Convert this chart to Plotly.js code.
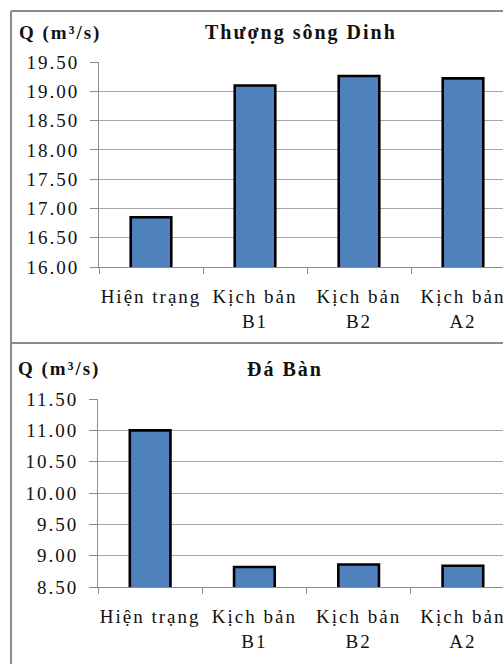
<!DOCTYPE html>
<html>
<head>
<meta charset="utf-8">
<script src="https://cdn.plot.ly/plotly-3.0.1.min.js"></script>
<style>
  html, body { margin: 0; padding: 0; background: #fff; }
  #chart { width: 503px; height: 664px; }
  #chart svg text { letter-spacing: 2px; }
</style>
</head>
<body>
<div id="chart"></div>
<script>
// Discharge Q (m³/s) under present conditions and climate scenarios
const categories = ["Hiện trạng", "Kịch bản<br>B1", "Kịch bản<br>B2", "Kịch bản<br>A2"];
const thuongSongDinh = [16.85, 19.10, 19.26, 19.22];
const daBan = [11.00, 8.82, 8.86, 8.84];
const titleTop = "Thượng sông Dinh";
const titleBottom = "Đá Bàn";
const unitLabel = "Q (m³/s)";

const W = 503, H = 664;
const px = x => x / W;            // pixel column -> paper x
const py = y => (H - y) / H;      // pixel row -> paper y

const FONT = "Times New Roman, Liberation Serif, DejaVu Serif, serif";
const barColor = "#4F81BD";
const gridColor = "#a6a6a6";
const axisColor = "#8c8c8c";

function barTrace(values, xa, ya) {
  return {
    type: "bar",
    x: categories,
    y: values,
    xaxis: xa,
    yaxis: ya,
    width: 0.39,
    marker: { color: barColor, line: { color: "#000", width: 2.6 } },
    hoverinfo: "skip",
    showlegend: false
  };
}

function xAxis(domainStart, anchor) {
  return {
    domain: [px(domainStart), 1],
    anchor: anchor,
    type: "category",
    range: [-0.5, 3.5 - 12 / 104],
    tickson: "boundaries",
    ticks: "outside",
    ticklen: 6,
    tickwidth: 1,
    tickcolor: axisColor,
    showline: true,
    linecolor: axisColor,
    linewidth: 1,
    showgrid: false,
    tickfont: { family: FONT, size: 19, color: "#111" },
    ticklabelstandoff: 12,
    fixedrange: true
  };
}

function yAxis(top, bottom, range, anchor) {
  return {
    domain: [py(bottom), py(top)],
    anchor: anchor,
    range: range,
    dtick: 0.5,
    tick0: range[0],
    tickformat: ".2f",
    ticks: "outside",
    ticklen: 8,
    tickwidth: 1,
    tickcolor: axisColor,
    showline: true,
    linecolor: axisColor,
    linewidth: 1,
    showgrid: true,
    gridcolor: gridColor,
    gridwidth: 1,
    zeroline: false,
    tickfont: { family: FONT, size: 19, color: "#111" },
    ticklabelstandoff: 7,
    fixedrange: true
  };
}

const data = [
  barTrace(thuongSongDinh, "x", "y"),
  barTrace(daBan, "x2", "y2")
];

const panelLine = { color: "#8c8c8c", width: 2 };

const layout = {
  width: W,
  height: H,
  margin: { l: 0, r: 0, t: 0, b: 0 },
  paper_bgcolor: "#fff",
  plot_bgcolor: "rgba(0,0,0,0)",
  font: { family: FONT },
  xaxis: xAxis(99, "y"),
  yaxis: yAxis(62, 267, [16, 19.5], "x"),
  xaxis2: xAxis(98, "y2"),
  yaxis2: yAxis(399, 587, [8.5, 11.5], "x2"),
  shapes: [
    // panel frames
    { type: "line", xref: "paper", yref: "paper", x0: px(11), x1: 1, y0: py(11), y1: py(11), line: panelLine },
    { type: "line", xref: "paper", yref: "paper", x0: px(11), x1: px(11), y0: py(11), y1: 0, line: panelLine },
    { type: "line", xref: "paper", yref: "paper", x0: px(11), x1: 1, y0: py(343), y1: py(343), line: panelLine }
  ],
  annotations: [
    { text: "<b>" + unitLabel + "</b>", xref: "paper", yref: "paper", x: px(25), y: py(33),
      xanchor: "left", yanchor: "middle", showarrow: false,
      font: { family: FONT, size: 19, color: "#111" } },
    { text: "<b>" + titleTop + "</b>", xref: "paper", yref: "paper", x: px(301), y: py(33),
      xanchor: "center", yanchor: "middle", showarrow: false,
      font: { family: FONT, size: 20, color: "#111" } },
    { text: "<b>" + unitLabel + "</b>", xref: "paper", yref: "paper", x: px(24), y: py(369),
      xanchor: "left", yanchor: "middle", showarrow: false,
      font: { family: FONT, size: 19, color: "#111" } },
    { text: "<b>" + titleBottom + "</b>", xref: "paper", yref: "paper", x: px(285), y: py(369),
      xanchor: "center", yanchor: "middle", showarrow: false,
      font: { family: FONT, size: 20, color: "#111" } }
  ]
};

Plotly.newPlot("chart", data, layout, { staticPlot: true, displayModeBar: false });
</script>
</body>
</html>
